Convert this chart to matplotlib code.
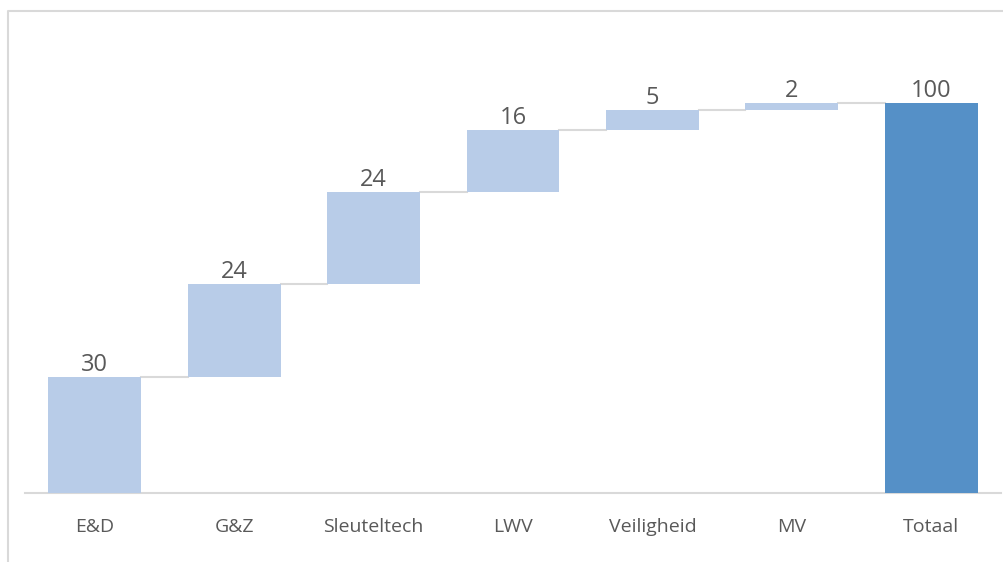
import matplotlib
matplotlib.use("Agg")
import matplotlib.pyplot as plt
from matplotlib.lines import Line2D

categories = ["E&D", "G&Z", "Sleuteltech", "LWV", "Veiligheid", "MV", "Totaal"]
steps = [29.7, 23.9, 23.6, 15.9, 5.1, 1.8]
total = 100

light = "#B8CCE8"
dark = "#5590C7"
grey = "#D9D9D9"
text_col = "#595959"

plt.rcParams["font.family"] = ["Open Sans", "DejaVu Sans"]

fig = plt.figure(figsize=(10.04, 5.62), dpi=100)
ax = fig.add_axes([25 / 1004, (562 - 492.5) / 562, 976 / 1004, (492.5 - 30) / 562])

# floating bars
bottoms = []
run = 0
for v in steps:
    bottoms.append(run)
    run += v
tops = [b + v for b, v in zip(bottoms, steps)]

x = list(range(len(categories)))
ax.bar(x[:-1], steps, bottom=bottoms, width=0.667, color=light, zorder=3)
ax.bar(x[-1], total, width=0.667, color=dark, zorder=3)

# connectors
for i, lev in enumerate(tops):
    ax.plot([i + 0.333, i + 1 - 0.333], [lev, lev], color=grey, lw=1.5, zorder=2)

# data labels
labels = [round(v) for v in steps] + [total]
label_tops = tops + [total]
for i, (lab, top) in enumerate(zip(labels, label_tops)):
    ax.annotate(str(lab), (i, top), xytext=(0, 0), textcoords="offset points",
                ha="center", va="bottom", fontsize=17, color=text_col)

ax.set_xlim(-0.5, 6.5)
ax.set_ylim(0, (492.5 - 30) / 3.892)
ax.set_xticks(x)
ax.set_xticklabels(categories, fontsize=14, color=text_col)
ax.tick_params(axis="x", length=0, pad=18)
ax.set_yticks([])
for s in ["top", "right", "left"]:
    ax.spines[s].set_visible(False)
ax.spines["bottom"].set_color(grey)
ax.spines["bottom"].set_linewidth(1.5)

# chart frame
fig.add_artist(Line2D([8.5 / 1004, 8.5 / 1004, 1.0], [0, 1 - 11 / 562, 1 - 11 / 562],
                      transform=fig.transFigure, color=grey, lw=1.5))

fig.savefig("out.png", dpi=100)
